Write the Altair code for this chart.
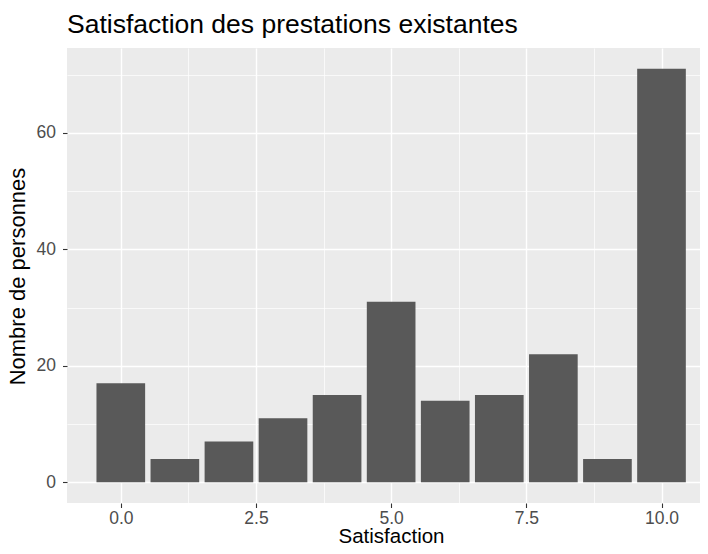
import altair as alt
import pandas as pd

satisfaction = [0, 1, 2, 3, 4, 5, 6, 7, 8, 9, 10]
personnes = [17, 4, 7, 11, 15, 31, 14, 15, 22, 4, 71]

x_major = [0, 2.5, 5, 7.5, 10]
x_minor = [1.25, 3.75, 6.25, 8.75]
y_major = [0, 20, 40, 60]
y_minor = [10, 30, 50, 70]

df = pd.DataFrame({"Satisfaction": satisfaction, "n": personnes})

FONT = "Liberation Sans"
x_dom = [-0.995, 10.712]
y_dom = [-3.55, 74.55]

label_expr = "datum.value == 10 ? '10.0' : format(datum.value, '.1f')"

base = alt.Chart(df).transform_calculate(
    x0="datum.Satisfaction - 0.45", x1="datum.Satisfaction + 0.45"
)

bars = base.mark_bar(color="#595959").encode(
    x=alt.X(
        "x0:Q",
        scale=alt.Scale(domain=x_dom, nice=False, zero=False),
        axis=alt.Axis(
            values=x_major, labelExpr=label_expr, title="Satisfaction",
            grid=True, gridColor="white", gridWidth=1.4,
            domain=False, ticks=True, tickColor="#333333", tickSize=4.5, tickWidth=1.1,
            labelColor="#4D4D4D", labelFontSize=17.5, labelFont=FONT, labelPadding=2,
            titleFont=FONT, titleFontSize=20.5, titleFontWeight="normal", titleColor="black",
            titleX=324, titleY=39, titleBaseline="alphabetic", titleAlign="center",
        ),
    ),
    x2="x1:Q",
    y=alt.Y(
        "n:Q",
        scale=alt.Scale(domain=y_dom, nice=False, zero=False),
        axis=alt.Axis(
            values=y_major, title="Nombre de personnes",
            grid=True, gridColor="white", gridWidth=1.4,
            domain=False, ticks=True, tickColor="#333333", tickSize=4.5, tickWidth=1.1,
            labelColor="#4D4D4D", labelFontSize=17.5, labelFont=FONT, labelPadding=7,
            titleFont=FONT, titleFontSize=22, titleFontWeight="normal", titleColor="black",
            titleX=-43, titleY=228, titleAngle=270, titleBaseline="alphabetic", titleAlign="center",
        ),
    ),
    y2=alt.Y2(datum=0),
)

minor = base.mark_bar(opacity=0).encode(
    x=alt.X(
        "x0:Q",
        scale=alt.Scale(domain=x_dom, nice=False, zero=False),
        axis=alt.Axis(values=x_minor, orient="top", grid=True, gridColor="white",
                      gridWidth=0.7, labels=False, ticks=False, domain=False, title=None,
                      minExtent=0, maxExtent=0, offset=0),
    ),
    x2="x1:Q",
    y=alt.Y(
        "n:Q",
        scale=alt.Scale(domain=y_dom, nice=False, zero=False),
        axis=alt.Axis(values=y_minor, orient="right", grid=True, gridColor="white",
                      gridWidth=0.7, labels=False, ticks=False, domain=False, title=None,
                      minExtent=0, maxExtent=0, offset=0),
    ),
    y2=alt.Y2(datum=0),
)

chart = alt.layer(minor, bars).resolve_axis(x="independent", y="independent").properties(
    width=633,
    height=455,
    title=alt.TitleParams(
        "Satisfaction des prestations existantes",
        anchor="start", frame="group", font=FONT, fontSize=26.5, fontWeight="normal",
        color="black", baseline="alphabetic", offset=16, dy=27.5,
    ),
    autosize=alt.AutoSizeParams(type="none"),
    padding={"left": 59, "top": 40, "right": 0, "bottom": 43},
).configure_view(fill="#EBEBEB", strokeWidth=0)

chart.save("out.html", embed_options={"renderer": "svg", "actions": False})
